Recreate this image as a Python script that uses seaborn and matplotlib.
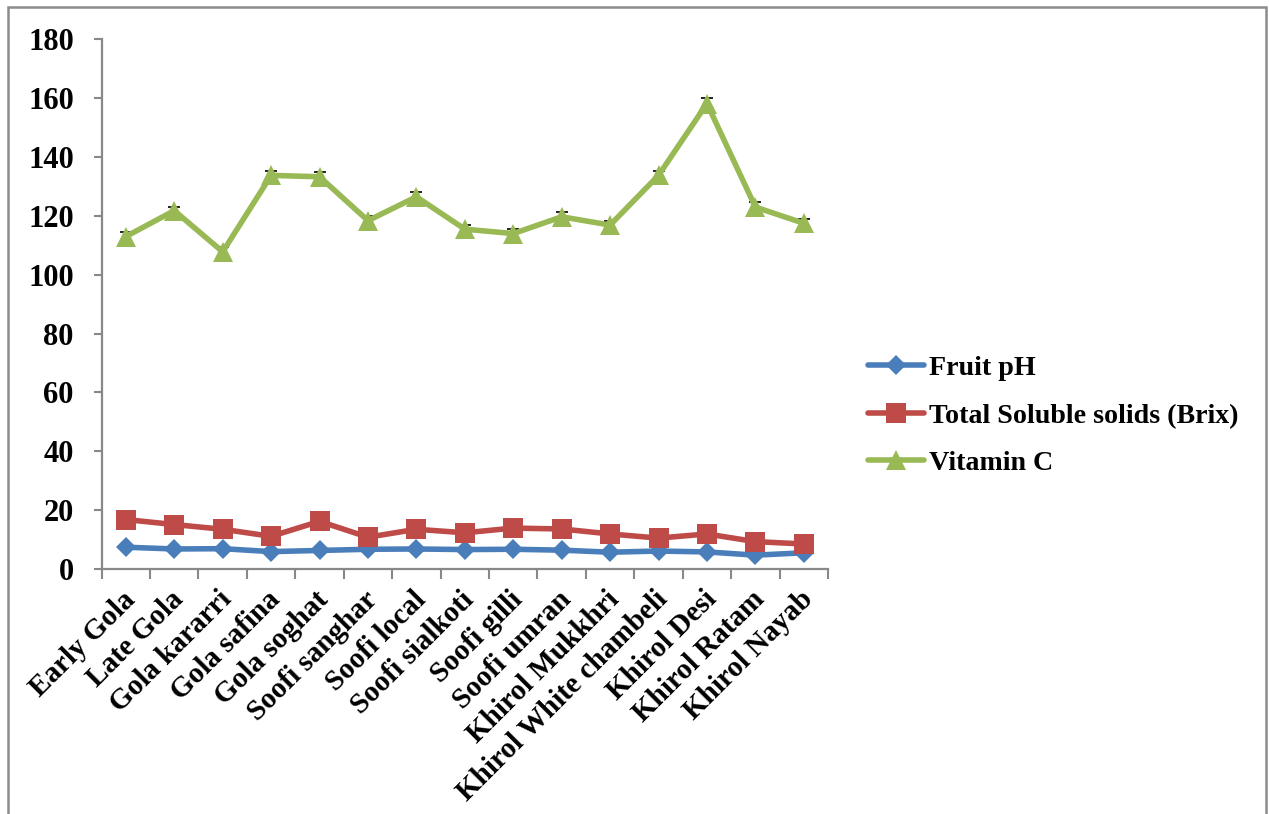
import matplotlib
matplotlib.use("Agg")
import matplotlib.pyplot as plt
from matplotlib.patches import Rectangle
from matplotlib.transforms import ScaledTranslation
import seaborn as sns
import pandas as pd

varieties = [
    "Early Gola", "Late Gola", "Gola kararri", "Gola safina", "Gola soghat",
    "Soofi sanghar", "Soofi local", "Soofi sialkoti", "Soofi gilli", "Soofi umran",
    "Khirol Mukkhri", "Khirol White chambeli", "Khirol Desi", "Khirol Ratam", "Khirol Nayab",
]
fruit_ph = [7.4, 6.8, 6.9, 5.9, 6.3, 6.7, 6.8, 6.6, 6.7, 6.4, 5.7, 6.1, 5.8, 4.7, 5.5]
tss_brix = [16.8, 15.1, 13.5, 11.1, 16.2, 10.8, 13.5, 12.3, 13.9, 13.6, 11.9, 10.5, 11.9, 9.3, 8.5]
vitamin_c = [113.0, 121.8, 107.8, 133.8, 133.3, 118.4, 126.5, 115.5, 114.0, 119.7,
             116.9, 133.8, 158.2, 123.0, 117.5]
vitamin_c_err = [1.5, 1.4, 1.5, 1.5, 1.5, 1.5, 1.7, 1.5, 1.5, 1.5, 1.5, 1.6, 2.0, 1.6, 1.5]
series_names = ["Fruit pH", "Total Soluble solids (Brix)", "Vitamin C"]
y_ticks = [0, 20, 40, 60, 80, 100, 120, 140, 160, 180]

sns.set_theme(style="white")
plt.rcParams["font.family"] = ["Liberation Serif", "DejaVu Serif"]
plt.rcParams["font.weight"] = "bold"
plt.rcParams["text.color"] = "black"
plt.rcParams["xtick.color"] = "black"
plt.rcParams["ytick.color"] = "black"

fig = plt.figure(figsize=(12.69, 8.14), dpi=100)
ax = fig.add_axes([0.0801, 0.301, 0.5724, 0.6506])

colors = ["#4A7EBB", "#BE4B48", "#98B954"]
markers = ["D", "s", "^"]
msizes = [9.7, 14.0, 14.4]

# error bars for vitamin C sit beneath the line markers
ax.errorbar(varieties, vitamin_c, yerr=vitamin_c_err, fmt="none", ecolor="black",
            elinewidth=1.0, capsize=4, capthick=1.2, zorder=1)

for name, vals, col, mk, ms in zip(series_names, [fruit_ph, tss_brix, vitamin_c],
                                   colors, markers, msizes):
    df = pd.DataFrame({"variety": varieties, "value": vals})
    sns.lineplot(data=df, x="variety", y="value", sort=False, ax=ax, color=col,
                 linewidth=4.0, marker=mk, markersize=ms, markeredgewidth=0,
                 label=name, zorder=3)

ax.set_xlim(-0.5, len(varieties) - 0.5)
ax.set_ylim(0, 180)
ax.set_yticks(y_ticks)
ax.set_yticklabels([str(t) for t in y_ticks], fontsize=22, fontweight="bold")
ax.set_xlabel("")
ax.set_ylabel("")

# ticks between categories on the x axis, labels at category centres
ax.set_xticks(range(len(varieties)))
ax.set_xticklabels(varieties, rotation=45, ha="right", rotation_mode="anchor",
                   fontsize=21, fontweight="bold", va="center")
ax.tick_params(axis="x", length=0, pad=19)
shift = ScaledTranslation(5 / 100, 0, fig.dpi_scale_trans)
for lab in ax.get_xticklabels():
    lab.set_transform(lab.get_transform() + shift)
ax.set_xticks([i - 0.5 for i in range(len(varieties) + 1)], minor=True)
ax.tick_params(axis="x", which="minor", length=7, width=1.5, color="#888888",
               direction="out", bottom=True)
ax.tick_params(axis="y", length=6, width=1.5, color="#888888", direction="out",
               left=True, pad=14, labelcolor="black")

for side in ["top", "right"]:
    ax.spines[side].set_visible(False)
for side in ["left", "bottom"]:
    ax.spines[side].set_color("#888888")
    ax.spines[side].set_linewidth(1.6)
ax.grid(False)

leg = ax.legend(loc="center left", bbox_to_anchor=(0.684, 0.489),
                bbox_transform=fig.transFigure, frameon=False, borderpad=0,
                borderaxespad=0, handlelength=2.0, handletextpad=0.18,
                labelspacing=0.78,
                prop={"family": "Liberation Serif", "weight": "bold", "size": 20.2})
for t in leg.get_texts():
    t.set_color("black")

# outer chart frame
fig.patches.append(Rectangle((7.5 / 1269, -0.05), (1265.5 - 7.5) / 1269, 1.05 - 7.5 / 814,
                             transform=fig.transFigure, fill=False,
                             edgecolor="#8c8c8c", linewidth=1.8, zorder=10))

fig.savefig("out.png", dpi=100, facecolor="white")
